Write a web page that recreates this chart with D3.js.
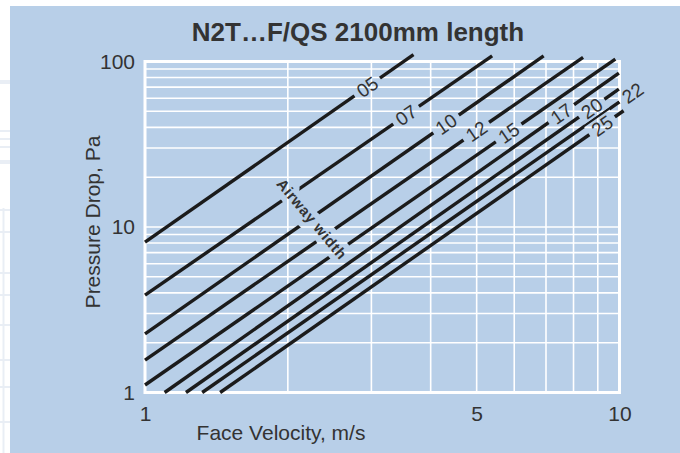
<!DOCTYPE html>
<html>
<head>
<meta charset="utf-8">
<script src="https://cdn.jsdelivr.net/npm/d3@7"></script>
<style>
  html, body { margin: 0; padding: 0; background: #ffffff; }
  svg { display: block; }
  text { font-family: "Liberation Sans", Arial, Helvetica, sans-serif; }
</style>
</head>
<body>
<svg id="chart" width="680" height="453"></svg>
<script>
// Airway widths (curve labels) and the straight runs of each curve on log-log axes
const airwayWidths = ["05", "07", "10", "12", "15", "17", "20", "22", "25"];
const startVelocity = [1, 1, 1, 1, 1, 1.10, 1.22, 1.32, 1.44];      // m/s
const startDrop     = [8.1, 3.88, 2.26, 1.57, 1.11, 1, 1, 1, 1];      // Pa
const endVelocity   = [3.68, 5.39, 6.92, 8.38, 9.8, 9.97, 9.97, 10, 10.2];
const endDrop       = [110, 108, 108, 106, 103.5, 85, 68, 57, 50.4];
const labelVelocity = [2.94, 3.55, 4.31, 4.99, 5.84, 7.54, 8.74, 10.65, 9.19];

const xTickValues = [1, 5, 10];
const yTickValues = [1, 10, 100];
const xGridValues = [1, 2, 3, 4, 5, 6, 7, 8, 9, 10];
const yGridValues = [1, 2, 3, 4, 5, 6, 7, 8, 9, 10, 20, 30, 40, 50, 60, 70, 80, 90, 100];

const titleText = "N2T\u2026F/QS 2100mm length";
const xTitle = "Face Velocity, m/s";
const yTitle = "Pressure Drop, Pa";
const noteText = "Airway width";

const W = 680, H = 453;
const panelColor = "#b8cfe8";
const inkColor = "#333333";
const lineColor = "#1b1b1b";

const svg = d3.select("#chart");

// faint page grid showing at the left margin
const margin = svg.append("g").attr("stroke", "#e9eef5").attr("fill", "none");
[82, 131, 139, 147, 162, 210, 232, 273, 295, 325, 360, 387, 422].forEach(y => {
  margin.append("line").attr("x1", 0).attr("x2", 10).attr("y1", y).attr("y2", y)
    .attr("stroke-width", y === 82 || y === 162 ? 4 : 2);
});
margin.append("line").attr("x1", 3.5).attr("x2", 3.5).attr("y1", 208).attr("y2", H).attr("stroke-width", 2);

// blue panel
svg.append("rect").attr("x", 10).attr("y", 6).attr("width", W - 10).attr("height", H - 6)
  .attr("fill", panelColor);

const x = d3.scaleLog().domain([1, 10]).range([145, 619.5]);
const y = d3.scaleLog().domain([1, 100]).range([392.5, 61.5]);

// grid
const grid = svg.append("g").attr("stroke", "#ffffff");
grid.selectAll("line.v").data(xGridValues).join("line").attr("class", "v")
  .attr("x1", d => x(d)).attr("x2", d => x(d))
  .attr("y1", y(1)).attr("y2", y(100))
  .attr("stroke-width", 1.6);
grid.selectAll("line.h").data(yGridValues).join("line").attr("class", "h")
  .attr("x1", x(1)).attr("x2", x(10))
  .attr("y1", d => y(d)).attr("y2", d => y(d))
  .attr("stroke-width", 1.6);
// plot frame
svg.append("rect")
  .attr("x", x(1)).attr("y", y(100))
  .attr("width", x(10) - x(1)).attr("height", y(1) - y(100))
  .attr("fill", "none").attr("stroke", "#ffffff").attr("stroke-width", 3);

// axes (labels only)
const xAxis = d3.axisBottom(x).tickValues(xTickValues).tickFormat(d3.format("d")).tickSize(0).tickPadding(14);
const yAxis = d3.axisLeft(y).tickValues(yTickValues).tickFormat(d3.format("d")).tickSize(0).tickPadding(10);
const gx = svg.append("g").attr("transform", `translate(0,${y(1)})`).call(xAxis);
const gy = svg.append("g").attr("transform", `translate(${x(1)},0)`).call(yAxis);
[gx, gy].forEach(g => {
  g.select(".domain").remove();
  g.selectAll("text").attr("fill", inkColor).style("font-size", "21px")
    .style("font-family", "'Liberation Sans', Arial, sans-serif");
});

// titles
svg.append("text").attr("x", 358).attr("y", 41).attr("text-anchor", "middle")
  .attr("fill", inkColor).style("font-size", "26px").style("font-weight", "bold")
  .text(titleText);
svg.append("text").attr("x", 281).attr("y", 440).attr("text-anchor", "middle")
  .attr("fill", inkColor).style("font-size", "21px").text(xTitle);
svg.append("text").attr("transform", "translate(100,222) rotate(-90)").attr("text-anchor", "middle")
  .attr("fill", inkColor).style("font-size", "21px").text(yTitle);

// curves
const series = airwayWidths.map((name, i) => ({
  name,
  v0: startVelocity[i], p0: startDrop[i],
  v1: endVelocity[i], p1: endDrop[i],
  vl: labelVelocity[i]
}));
function dropAt(s, v) {
  const k = Math.log(s.p1 / s.p0) / Math.log(s.v1 / s.v0);
  return s.p0 * Math.pow(v / s.v0, k);
}

const defs = svg.append("defs");
const mask = defs.append("mask").attr("id", "curve-gaps")
  .attr("maskUnits", "userSpaceOnUse").attr("x", 0).attr("y", 0).attr("width", W).attr("height", H);
mask.append("rect").attr("width", W).attr("height", H).attr("fill", "#fff");

const labelLayer = svg.append("g");
const noteX = 312, noteY = 219, noteAngle = 50;

series.forEach(s => {
  const lx = x(s.vl), ly = y(dropAt(s, s.vl));
  const ang = Math.atan2(y(s.p1) - y(s.p0), x(s.v1) - x(s.v0)) * 180 / Math.PI;
  const t = labelLayer.append("text")
    .attr("transform", `translate(${lx},${ly}) rotate(${ang})`)
    .attr("text-anchor", "middle").attr("dy", "0.36em")
    .attr("fill", inkColor).style("font-size", "19px").text(s.name);
  const w = t.node().getComputedTextLength() + 10;
  mask.append("rect")
    .attr("transform", `translate(${lx},${ly}) rotate(${ang})`)
    .attr("x", -w / 2).attr("y", -9).attr("width", w).attr("height", 18).attr("fill", "#000");
});

// note across the curves
mask.append("text")
  .attr("transform", `translate(${noteX},${noteY}) rotate(${noteAngle})`)
  .attr("text-anchor", "middle").attr("dy", "0.36em")
  .style("font-size", "15px").style("font-weight", "bold").style("letter-spacing", "0.6px")
  .attr("fill", "#000").attr("stroke", "#000").attr("stroke-width", 12).attr("stroke-linejoin", "round")
  .text(noteText);

svg.append("g").attr("mask", "url(#curve-gaps)")
  .selectAll("line").data(series).join("line")
  .attr("x1", d => x(d.v0)).attr("y1", d => y(d.p0))
  .attr("x2", d => x(d.v1)).attr("y2", d => y(d.p1))
  .attr("stroke", lineColor).attr("stroke-width", 3.4);

svg.append("text")
  .attr("transform", `translate(${noteX},${noteY}) rotate(${noteAngle})`)
  .attr("text-anchor", "middle").attr("dy", "0.36em")
  .style("font-size", "15px").style("font-weight", "bold").style("letter-spacing", "0.6px")
  .attr("fill", inkColor).text(noteText);

svg.node().appendChild(labelLayer.node());
</script>
</body>
</html>
